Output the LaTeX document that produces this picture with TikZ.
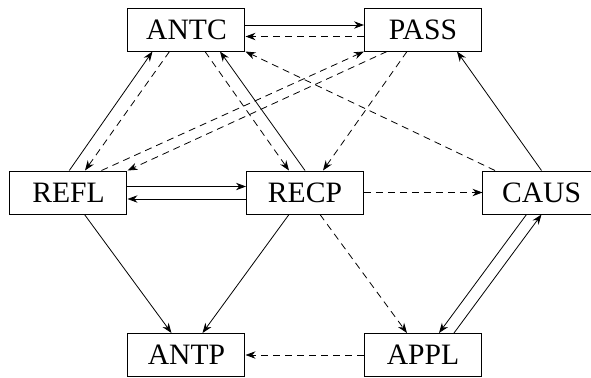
\documentclass[tikz,border=0pt]{standalone}
\usepackage{fontspec}
\setmainfont{Liberation Serif}
\usetikzlibrary{arrows.meta,calc}
\begin{document}
\begin{tikzpicture}[x=0.5pt,y=-0.5pt,
  box/.style={draw, line width=0.5pt, minimum width=58.5pt, minimum height=21.5pt, inner sep=0pt,
    font=\fontsize{14.8}{17}\selectfont},
  sol/.style={-{Stealth[length=5pt,width=3.7pt]}, line width=0.4pt},
  dsh/.style={sol, dash pattern=on 3.5pt off 2.5pt}]
\clip (0,0) rectangle (591,377);
\useasboundingbox (0,0) rectangle (591,377);
\node[box] (ANTC) at (186.5,29.5) {ANTC};
\node[box] (PASS) at (423,29.5) {PASS};
\node[box] (REFL) at (68.5,192.5) {REFL};
\node[box] (RECP) at (305,192.5) {RECP};
\node[box] (CAUS) at (541.5,192.5) {CAUS};
\node[box] (ANTP) at (186.5,355) {ANTP};
\node[box] (APPL) at (423,355) {APPL};
% horizontal
\draw[sol] ($(ANTC.east)+(0,-4.5)$) -- ($(PASS.west)+(0,-4.5)$);
\draw[dsh] ($(PASS.west)+(0,7)$) -- ($(ANTC.east)+(0,7)$);
\draw[sol] ($(REFL.east)+(0,-6)$) -- ($(RECP.west)+(0,-6)$);
\draw[sol] ($(RECP.west)+(0,6.5)$) -- ($(REFL.east)+(0,6.5)$);
\draw[dsh] (RECP.east) -- (CAUS.west);
\draw[dsh] (APPL.west) -- (ANTP.east);
% top to middle
\draw[sol] ($(REFL.north)+(0.8,0)$) -- ($(ANTC.south)+(-34,0)$);
\draw[dsh] ($(ANTC.south)+(-17,0)$) -- ($(REFL.north)+(16.5,0)$);
\draw[dsh] ($(REFL.north)+(33,0)$) -- (PASS.south west);
\draw[dsh] ($(PASS.south)+(-36,0)$) -- (REFL.north east);
\draw[dsh] ($(ANTC.south)+(18.5,0)$) -- ($(RECP.north)+(-16,0)$);
\draw[sol] (RECP.north) -- ($(ANTC.south)+(33.5,0)$);
\draw[dsh] ($(PASS.south)+(-16,0)$) -- ($(RECP.north)+(18,0)$);
\draw[dsh] ($(CAUS.north)+(-46.5,0)$) -- (ANTC.south east);
\draw[sol] (CAUS.north) -- ($(PASS.south)+(34,0)$);
% middle to bottom
\draw[sol] ($(REFL.south)+(16,0)$) -- ($(ANTP.north)+(-15,0)$);
\draw[sol] ($(RECP.south)+(-16,0)$) -- ($(ANTP.north)+(16,0)$);
\draw[dsh] ($(RECP.south)+(15,0)$) -- ($(APPL.north)+(-16,0)$);
\draw[sol] ($(CAUS.south)+(-15,0)$) -- ($(APPL.north)+(16,0)$);
\draw[sol] ($(APPL.north)+(31,0)$) -- (CAUS.south);
\end{tikzpicture}
\end{document}
